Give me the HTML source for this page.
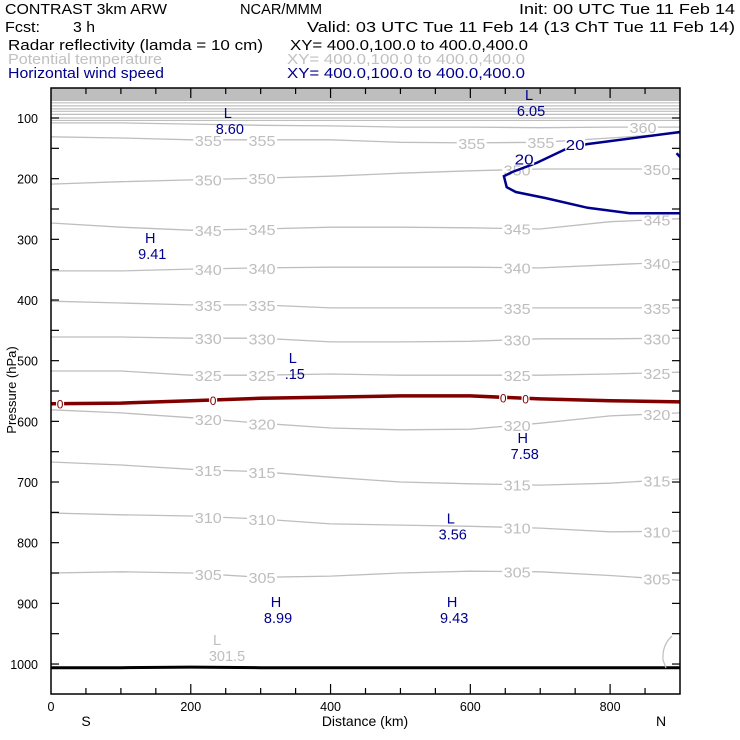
<!DOCTYPE html>
<html><head><meta charset="utf-8"><style>
html,body{margin:0;padding:0;background:#fff;}
svg{display:block;font-family:"Liberation Sans",sans-serif;}
</style></head><body>
<svg id="chart" width="740" height="740" viewBox="0 0 740 740" xmlns="http://www.w3.org/2000/svg">
<rect width="740" height="740" fill="#fff"/>
<g id="header" font-size="14.5">
<text x="5" y="14" textLength="162" lengthAdjust="spacingAndGlyphs">CONTRAST  3km ARW</text>
<text x="240" y="14" textLength="82" lengthAdjust="spacingAndGlyphs">NCAR/MMM</text>
<text x="519" y="14" textLength="216" lengthAdjust="spacingAndGlyphs">Init: 00 UTC Tue 11 Feb 14</text>
<text x="5" y="32" textLength="35" lengthAdjust="spacingAndGlyphs">Fcst:</text>
<text x="73" y="32" textLength="22" lengthAdjust="spacingAndGlyphs">3 h</text>
<text x="307" y="32" textLength="428" lengthAdjust="spacingAndGlyphs">Valid: 03 UTC Tue 11 Feb 14 (13 ChT Tue 11 Feb 14)</text>
<text x="8" y="50" textLength="255" lengthAdjust="spacingAndGlyphs">Radar reflectivity (lamda = 10 cm)</text>
<text x="290" y="50" textLength="238" lengthAdjust="spacingAndGlyphs">XY= 400.0,100.0 to 400.0,400.0</text>
<text x="8" y="64" fill="#c0c0c0" textLength="154" lengthAdjust="spacingAndGlyphs">Potential temperature</text>
<text x="287" y="64" fill="#c0c0c0" textLength="238" lengthAdjust="spacingAndGlyphs">XY= 400.0,100.0 to 400.0,400.0</text>
<text x="8" y="78" fill="#00008c" textLength="156" lengthAdjust="spacingAndGlyphs">Horizontal wind speed</text>
<text x="287" y="78" fill="#00008c" textLength="238" lengthAdjust="spacingAndGlyphs">XY= 400.0,100.0 to 400.0,400.0</text>
</g>
<g id="plot"></g>
</svg>
<script>
// ---- data ----
const gridKm = [0,100,200,300,400,500,600,700,800,900];
const thetaLevels = [305,310,315,320,325,330,335,340,345,350,355,360];
const theta305 = [850,848,850,857,855,850,847,848,854,862];
const theta310 = [751,754,756,761,769,771,773,776,782,781];
const theta315 = [667,672,679,683,692,700,703,705,702,695];
const theta320 = [581,586,594,603,611,614,613,603,591,586];
const theta325 = [517,517,524,524,522,524,524,524,522,519];
const theta330 = [461,461,463,463,469,469,468,464,464,463];
const theta335 = [402,405,408,408,413,413,413,413,413,413];
const theta340 = [352,352,349,347,346,346,346,347,342,337];
const theta345 = [273,280,285,283,280,280,281,283,271,266];
const theta350 = [209,205,202,199,196,191,187,184,184,184];
const theta355 = [131,133,136,136,136,140,141,140,133,125];
const theta360 = [108,108,110,112,113,115,115,116,115,115];
const thetaUpper = [75,80,85,89,94,100,104];
const refl0 = [571,570,566,562,560,558,558,563,566,568];
const wind20Km = [900,767,737,695,660,648,650,652,665,708,768,828,900];
const wind20P = [123,143,151,174,189,196,205,214,222,232,248,257,257];
const surfaceP = [1006,1006,1005,1006,1006,1006,1006,1006,1006,1006];
const labelKmLeft = [225,302];
const labelKmRight = [667,867];
const label355Km = [225,302,602,701];
const extremaKind = ['L','L','H','L','H','L','H','H'];
const extremaVal = ['8.60','6.05','9.41','.15','7.58','3.56','8.99','9.43'];
const extremaKm = [253,684,142,346,675,572,322,574];
const extremaP = [100,70,306,504,636,768,906,906];
const yTicks = [100,200,300,400,500,600,700,800,900,1000];
const xTicks = [0,200,400,600,800];

// ---- axes ----
const X0=51, X1=680, Y0=88, Y1=694;
const KMMAX=900;
const sx = km => X0 + km*(X1-X0)/KMMAX;
const sy = p => 118 + (p-100)*0.6067;
const NS='http://www.w3.org/2000/svg';
const plot=document.getElementById('plot');
function mk(tag, attrs, parent){const e=document.createElementNS(NS,tag);for(const k in attrs)e.setAttribute(k,attrs[k]);(parent||plot).appendChild(e);return e;}
function interp(ks, ps, km){for(let i=0;i<ks.length-1;i++){if(km>=ks[i]&&km<=ks[i+1]){const t=(km-ks[i])/(ks[i+1]-ks[i]);return ps[i]+t*(ps[i+1]-ps[i]);}}return ps[ps.length-1];}
function pathFrom(ks, ps){return ks.map((k,i)=>(i?'L':'M')+sx(k).toFixed(1)+' '+sy(ps[i]).toFixed(1)).join(' ');}

const clip=mk('clipPath',{id:'pc'});mk('rect',{x:X0,y:Y0,width:X1-X0,height:Y1-Y0},clip);
const gTheta=mk('g',{'clip-path':'url(#pc)'});



const band=mk('rect',{x:X0,y:Y0,width:X1-X0,height:sy(72)-Y0,fill:'#bebebe'},gTheta);


thetaUpper.forEach(p=>{
  const l=mk('line',{x1:X0,x2:X1,y1:sy(p),y2:sy(p),stroke:'#bebebe','stroke-width':1.2},gTheta);
  
  
});
const thetaSeries=[theta305,theta310,theta315,theta320,theta325,theta330,theta335,theta340,theta345,theta350,theta355,theta360];
const gLab=mk('g',{});


thetaSeries.forEach((ps,i)=>{
  const e=mk('path',{d:pathFrom(gridKm,ps),fill:'none',stroke:'#bebebe','stroke-width':1.3},gTheta);
  
  
  let kms;
  if(thetaLevels[i]===360) kms=[847];
  else if(thetaLevels[i]===355) kms=label355Km;
  else kms=labelKmLeft.concat(labelKmRight);
  kms.forEach(k=>{
    const x=sx(k), y=sy(interp(gridKm,ps,k));
    mk('rect',{x:x-15,y:y-6,width:30,height:12,fill:'#fff'},gLab);
    const t=mk('text',{x:x,y:y+6,'text-anchor':'middle','font-size':14.5,fill:'#bebebe',textLength:27,lengthAdjust:'spacingAndGlyphs'},gLab);
    t.textContent=String(thetaLevels[i]);
    
    
  });
});

const sf=mk('path',{d:pathFrom(gridKm,surfaceP),fill:'none',stroke:'#000','stroke-width':3});


const sm=mk('path',{d:'M672 636 Q662 645 663 660 L666 668',fill:'none',stroke:'#bebebe','stroke-width':1.2});



const rf=mk('path',{d:pathFrom(gridKm,refl0),fill:'none',stroke:'#800000','stroke-width':3.5});


[13,232,647,679].forEach(k=>{
  const x=sx(k), y=sy(interp(gridKm,refl0,k));
  mk('rect',{x:x-4,y:y-5,width:8,height:10,fill:'#fff'});
  const t=mk('text',{x:x,y:y+5,'text-anchor':'middle','font-size':12,fill:'#800000'});
  t.textContent='0';
  
  
});

const wd=mk('path',{d:pathFrom(wind20Km,wind20P),fill:'none',stroke:'#00008c','stroke-width':2.5,'clip-path':'url(#pc)'});


const wd2=mk('path',{d:'M'+sx(895)+' '+sy(158)+' L'+sx(900)+' '+sy(164),fill:'none',stroke:'#00008c','stroke-width':2.5});


[[750,143],[677,167]].forEach(([k,p])=>{
  const x=sx(k), y=sy(p);
  mk('rect',{x:x-10,y:y-6,width:20,height:12,fill:'#fff'});
  const t=mk('text',{x:x,y:y+6,'text-anchor':'middle','font-size':14.5,fill:'#00008c',textLength:19,lengthAdjust:'spacingAndGlyphs'});
  t.textContent='20';
  
  
});

extremaKind.forEach((k,i)=>{
  const x=sx(extremaKm[i]), y=sy(extremaP[i]);
  const t=mk('text',{x:x,y:y,'text-anchor':'middle','font-size':14.5,fill:'#00008c'});
  t.textContent=k;
  
  
  const v=mk('text',{x:x+2,y:y+16,'text-anchor':'middle','font-size':14.5,fill:'#00008c'});
  v.textContent=extremaVal[i];
  
  
});
const lt=mk('text',{x:217,y:645,'text-anchor':'middle','font-size':14.5,fill:'#bebebe'});lt.textContent='L';


const lv=mk('text',{x:227,y:661,'text-anchor':'middle','font-size':14.5,fill:'#bebebe'});lv.textContent='301.5';



const fr=mk('rect',{x:X0,y:Y0,width:X1-X0,height:Y1-Y0,fill:'none',stroke:'#000','stroke-width':1.5});


for(let p=100;p<=1000;p+=50){
  const y=sy(p);
  mk('line',{x1:X0,x2:X0+8,y1:y,y2:y,stroke:'#000','stroke-width':1.2});
  mk('line',{x1:X1-8,x2:X1,y1:y,y2:y,stroke:'#000','stroke-width':1.2});
}
yTicks.forEach(p=>{
  const t=mk('text',{x:38,y:sy(p)+5,'text-anchor':'end','font-size':12.5});
  t.textContent=String(p);
  
  
});
for(let k=50;k<KMMAX;k+=50){
  const x=sx(k), L=(k%200===0)?10:6;
  mk('line',{x1:x,x2:x,y1:Y1,y2:Y1-L,stroke:'#000','stroke-width':1.2});
  mk('line',{x1:x,x2:x,y1:Y0,y2:Y0+L,stroke:'#000','stroke-width':1.2});
}
xTicks.forEach(k=>{
  const t=mk('text',{x:sx(k),y:711,'text-anchor':'middle','font-size':12.5});
  t.textContent=String(k);
  
  
});
const xt=mk('text',{x:365,y:726,'text-anchor':'middle','font-size':14});xt.textContent='Distance (km)';


const s=mk('text',{x:86,y:726,'text-anchor':'middle','font-size':14});s.textContent='S';


const n=mk('text',{x:661,y:726,'text-anchor':'middle','font-size':14});n.textContent='N';


const yt=mk('text',{x:0,y:0,'text-anchor':'middle','font-size':13,transform:'translate(16,390) rotate(-90)'});yt.textContent='Pressure (hPa)';


</script>
</body></html>
